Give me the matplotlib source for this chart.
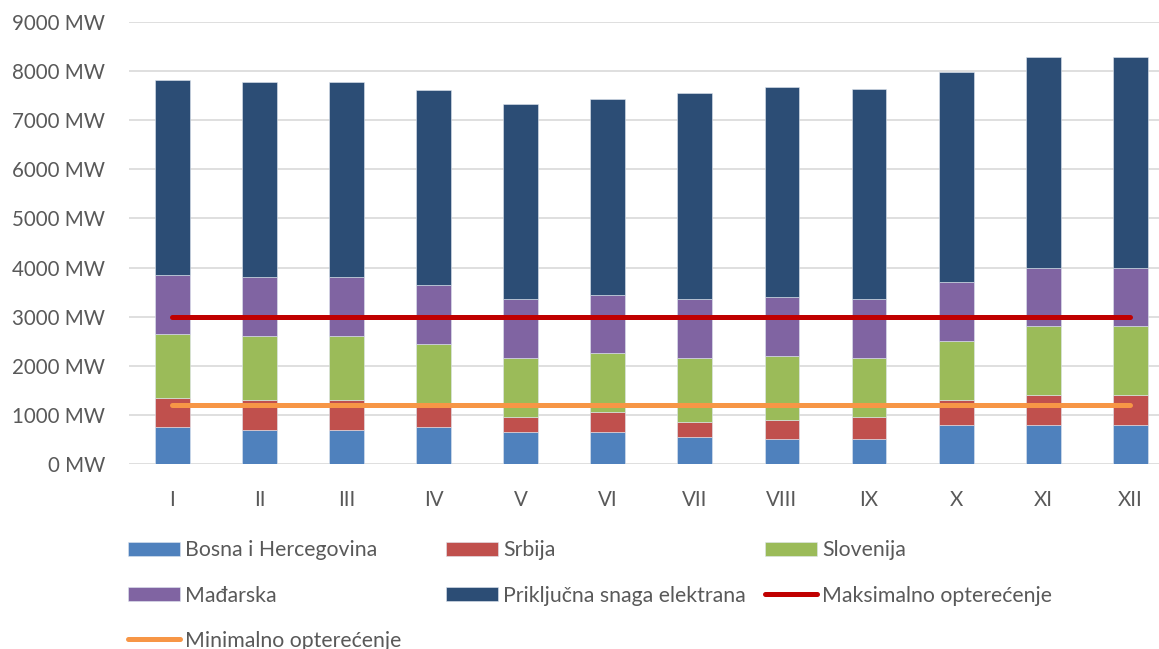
import matplotlib
matplotlib.use("Agg")
import matplotlib.pyplot as plt
import numpy as np

months = ["I", "II", "III", "IV", "V", "VI", "VII", "VIII", "IX", "X", "XI", "XII"]
bih = [750, 700, 700, 750, 650, 650, 550, 500, 500, 800, 800, 800]
srbija = [600, 600, 600, 450, 300, 400, 300, 400, 450, 500, 600, 600]
slovenija = [1300, 1300, 1300, 1250, 1200, 1200, 1300, 1300, 1200, 1200, 1400, 1400]
madjarska = [1200, 1200, 1200, 1200, 1200, 1200, 1200, 1200, 1200, 1200, 1200, 1200]
prikljucna = [3975, 3975, 3975, 3975, 3975, 3975, 4210, 4285, 4285, 4285, 4285, 4285]
max_opt = [3000] * 12
min_opt = [1200] * 12
yticks = [0, 1000, 2000, 3000, 4000, 5000, 6000, 7000, 8000, 9000]

FONT = "Lato"
TXT = "#595959"
plt.rcParams["font.family"] = [FONT, "DejaVu Sans"]

fig = plt.figure(figsize=(11.59, 6.49), dpi=100)
ax = fig.add_axes([128.9 / 1159, 1 - 464 / 649, (1173.8 - 128.9) / 1159, 442 / 649])

x = np.arange(len(months))
w = 0.4
series = [
    ("Bosna i Hercegovina", bih, "#4F81BD"),
    ("Srbija", srbija, "#C0504D"),
    ("Slovenija", slovenija, "#9BBB59"),
    ("Mađarska", madjarska, "#8064A2"),
    ("Priključna snaga elektrana", prikljucna, "#2C4D75"),
]
bottom = np.zeros(len(months))
handles = {}
for name, vals, col in series:
    b = ax.bar(x, vals, w, bottom=bottom, color=col, edgecolor="#dfe6ef", linewidth=0.4,
               label=name, zorder=2)
    handles[name] = b
    bottom += np.array(vals)

lmax, = ax.plot(x, max_opt, color="#C00000", lw=3.6, solid_capstyle="round", zorder=3,
                label="Maksimalno opterećenje")
lmin, = ax.plot(x, min_opt, color="#F79646", lw=3.6, solid_capstyle="round", zorder=3,
                label="Minimalno opterećenje")

ax.set_xlim(-0.5, len(months) - 0.5)
ax.set_ylim(0, 9000)
ax.set_yticks(yticks)
ax.set_yticklabels([f"{v} MW" for v in yticks])
ax.set_xticks(x)
ax.set_xticklabels(months)
ax.yaxis.grid(True, color="#D9D9D9", lw=1.2, zorder=0)
ax.set_axisbelow(True)
for s in ax.spines.values():
    s.set_visible(False)
ax.tick_params(axis="both", length=0, labelsize=14.8, colors=TXT)
ax.tick_params(axis="y", pad=17)
ax.tick_params(axis="x", pad=19)

leg_kw = dict(frameon=False, fontsize=15.3, handlelength=2.45, handleheight=0.63,
              handletextpad=0.24, labelspacing=1.18, borderaxespad=0, borderpad=0,
              labelcolor=TXT, loc="upper left")
cols = [
    (128, [handles["Bosna i Hercegovina"], handles["Mađarska"], lmin],
     ["Bosna i Hercegovina", "Mađarska", "Minimalno opterećenje"]),
    (446, [handles["Srbija"], handles["Priključna snaga elektrana"]],
     ["Srbija", "Priključna snaga elektrana"]),
    (765, [handles["Slovenija"], lmax], ["Slovenija", "Maksimalno opterećenje"]),
]
for xp, hs, ls in cols:
    fig.legend(hs, ls, bbox_to_anchor=(xp / 1159, 1 - 540.5 / 649), **leg_kw)

fig.savefig("out.png", dpi=100)
